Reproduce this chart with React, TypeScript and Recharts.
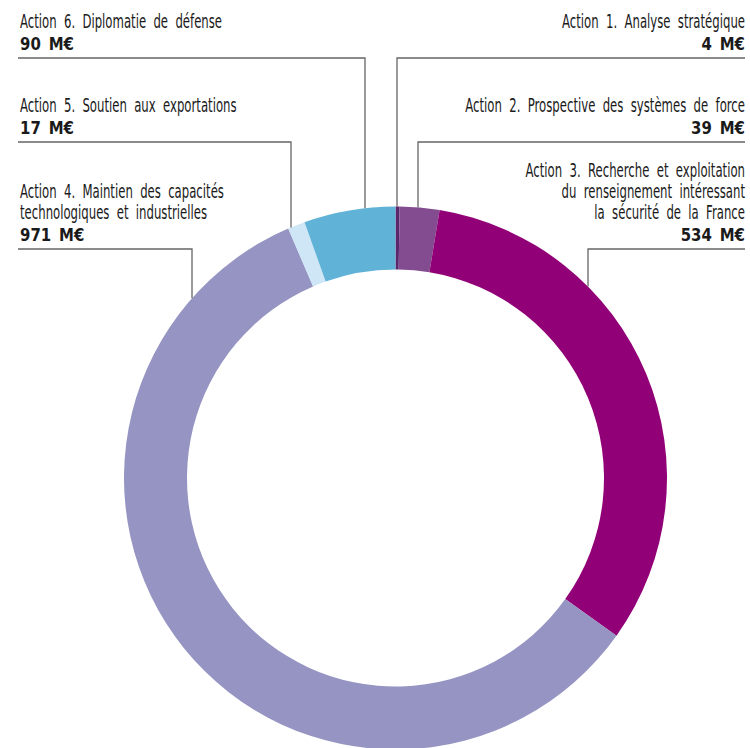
import { PieChart, Pie, Cell } from "recharts";

const actions = [
  "Action 1",
  "Action 2",
  "Action 3",
  "Action 4",
  "Action 5",
  "Action 6",
];
const titles = [
  ["Action 1. Analyse stratégique"],
  ["Action 2. Prospective des systèmes de force"],
  [
    "Action 3. Recherche et exploitation",
    "du renseignement intéressant",
    "la sécurité de la France",
  ],
  ["Action 4. Maintien des capacités", "technologiques et industrielles"],
  ["Action 5. Soutien aux exportations"],
  ["Action 6. Diplomatie de défense"],
];
const budgets = [4, 39, 534, 971, 17, 90];
const colors = ["#5c266c", "#834c90", "#920077", "#9594c2", "#cee6f6", "#60b3d7"];

// label placement (annotation layout, not data)
const labelLayout = [
  { side: "right", top: 28, lineX: 397 },
  { side: "right", top: 112, lineX: 418 },
  { side: "right", top: 177, lineX: 588 },
  { side: "left", top: 198, lineX: 192 },
  { side: "left", top: 112, lineX: 291 },
  { side: "left", top: 28, lineX: 365 },
];

const data = actions.map((a, i) => ({ name: a, value: budgets[i] }));

const FONT = "'DejaVu Sans', sans-serif";

const renderLabel = (props: any) => {
  const { index, cx, cy, outerRadius } = props;
  const lay = labelLayout[index];
  const lines = titles[index];
  const left = lay.side === "left";
  const tx = left ? 20 : 745;
  const anchor = left ? "start" : "end";
  const valueY = lay.top + (lines.length - 1) * 21 + 21.5;
  const lineY = valueY + 8.5;
  const dx = lay.lineX - cx;
  const edgeY = cy - Math.sqrt(outerRadius * outerRadius - dx * dx);
  const x1 = left ? 18 : lay.lineX;
  const x2 = left ? lay.lineX : 745;
  return (
    <g key={`lbl-${index}`}>
      {lines.map((t, j) => (
        <text
          key={j}
          transform={`translate(${tx},${lay.top + j * 21}) scale(0.6,1)`}
          textAnchor={anchor}
          fontFamily={FONT}
          fontSize={19.5}
          wordSpacing={6}
          fill="#1a1a1a"
        >
          {t}
        </text>
      ))}
      <text
        transform={`translate(${tx},${valueY}) scale(0.88,1)`}
        textAnchor={anchor}
        fontFamily={FONT}
        fontSize={17}
        fontWeight="bold"
        wordSpacing={3}
        fill="#1a1a1a"
      >
        {`${budgets[index]} M€`}
      </text>
      <polyline
        points={`${x1},${lineY} ${x2},${lineY} ${lay.lineX},${lineY} ${lay.lineX},${edgeY}`}
        fill="none"
        stroke="#666"
        strokeWidth={1.3}
      />
    </g>
  );
};

export default function App() {
  return (
    <div style={{ position: "absolute", left: 0, top: 0, background: "#fff" }}>
      <PieChart width={750} height={748} margin={{ top: 0, right: 0, bottom: 0, left: 0 }}>
        <Pie
          data={data}
          dataKey="value"
          nameKey="name"
          cx={395.5}
          cy={478}
          innerRadius={208.5}
          outerRadius={271.5}
          startAngle={90}
          endAngle={-270}
          stroke="none"
          label={renderLabel}
          labelLine={false}
          isAnimationActive={false}
        >
          {data.map((d, i) => (
            <Cell key={d.name} fill={colors[i]} />
          ))}
        </Pie>
      </PieChart>
    </div>
  );
}
